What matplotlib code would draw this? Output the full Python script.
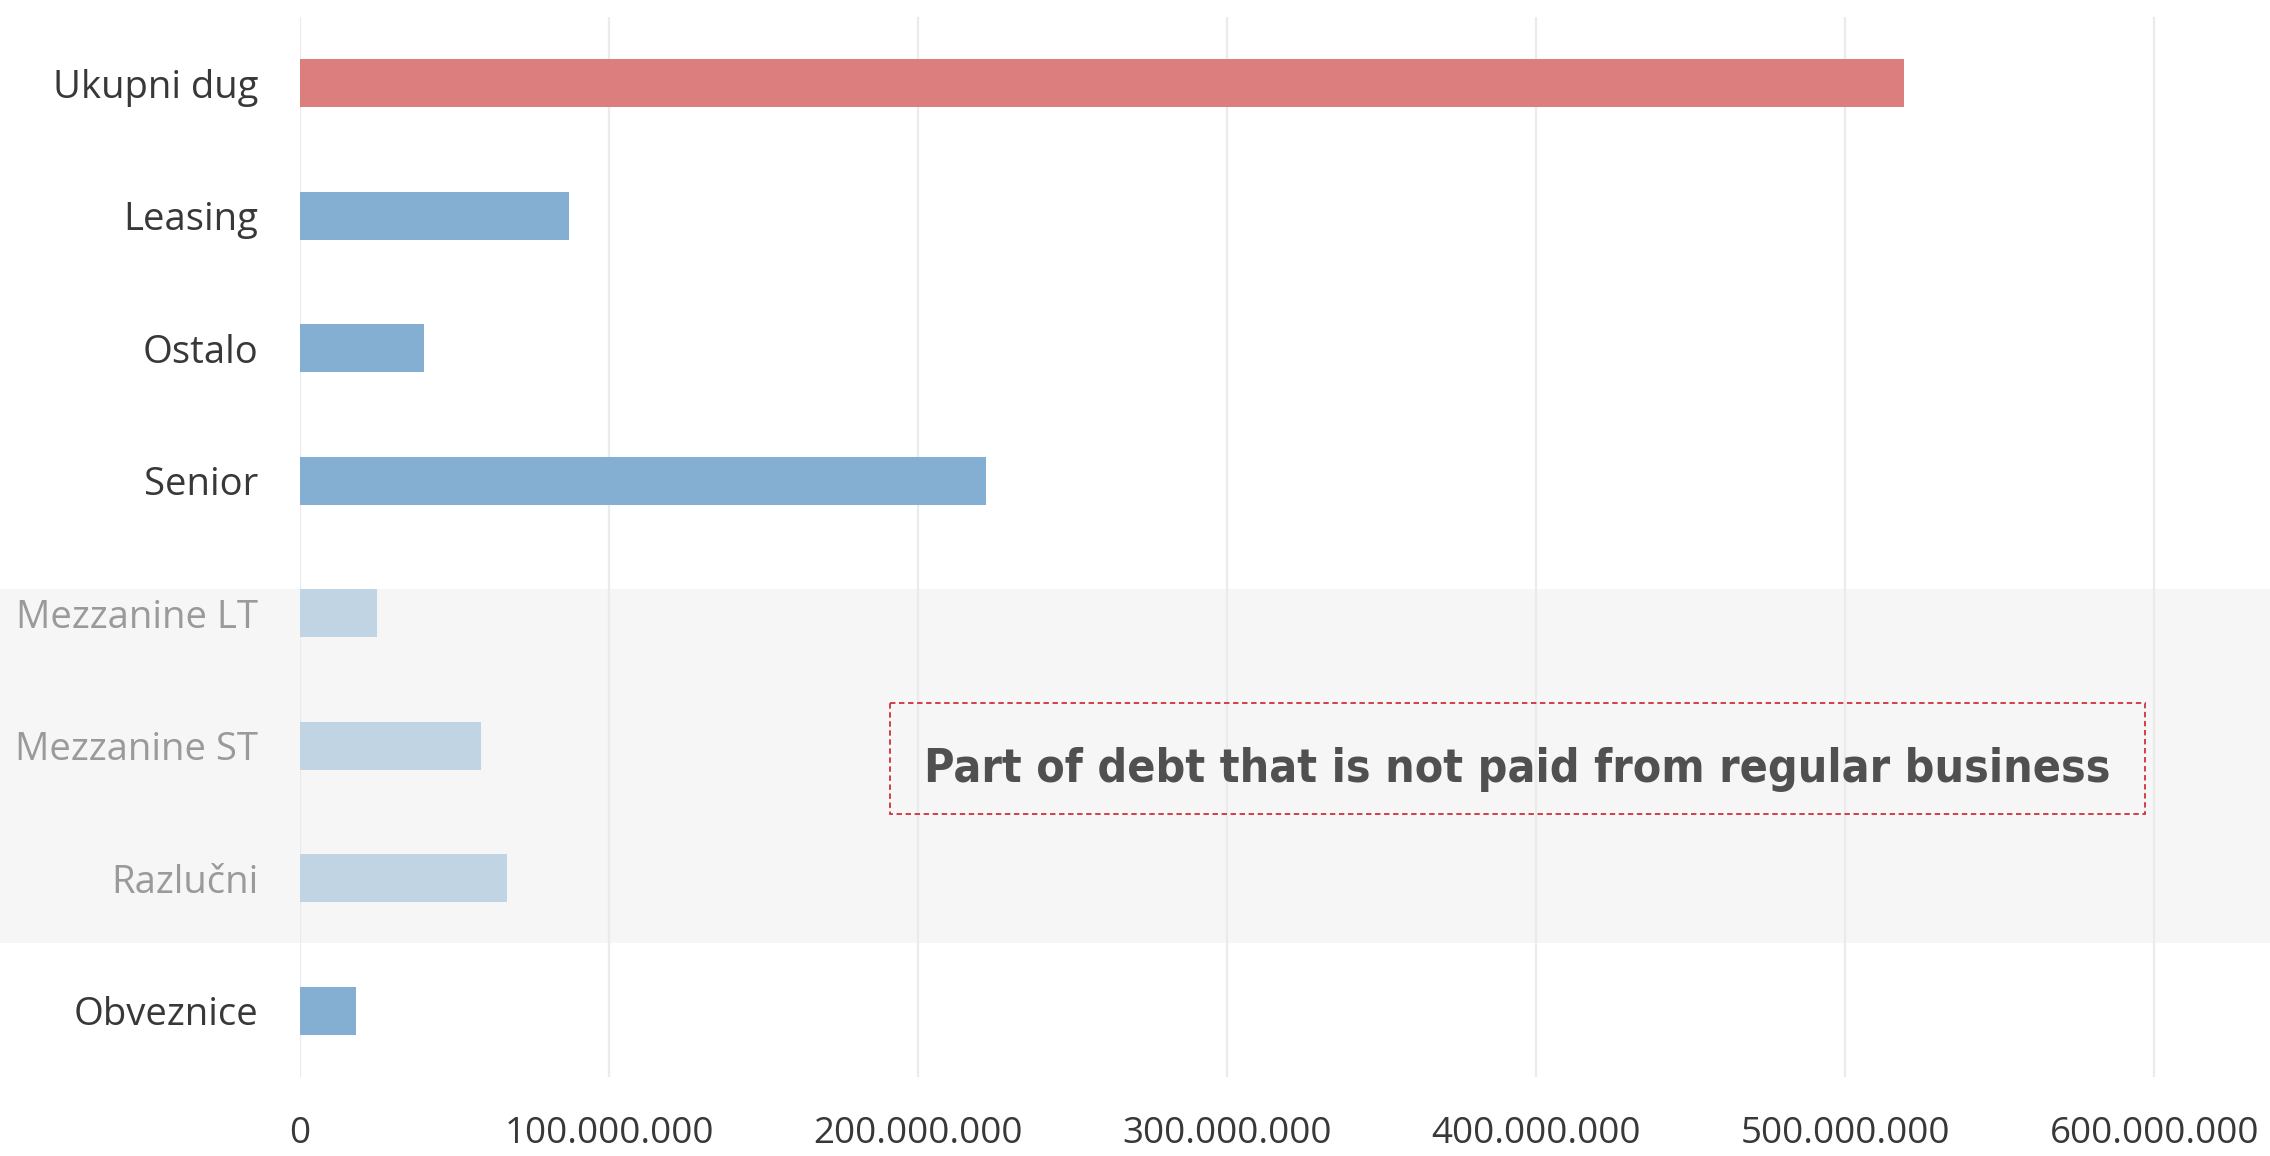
import matplotlib
matplotlib.use("Agg")
import matplotlib.pyplot as plt
import matplotlib.transforms as mtransforms
from matplotlib.patches import Rectangle
from matplotlib.ticker import FuncFormatter

# data
categories = ['Ukupni dug', 'Leasing', 'Ostalo', 'Senior',
              'Mezzanine LT', 'Mezzanine ST', 'Razlučni', 'Obveznice']
values = [519e6, 87e6, 40e6, 222e6, 25e6, 58.5e6, 67e6, 18e6]
faded = [False, False, False, False, True, True, True, False]
ticks = [0, 100e6, 200e6, 300e6, 400e6, 500e6, 600e6]
note = 'Part of debt that is not paid from regular business'

red = '#dd7e7e'
blue = '#84afd3'
blue_faded = '#c1d4e3'

plt.rcParams['font.family'] = ['Open Sans', 'DejaVu Sans']

fig = plt.figure(figsize=(22.7, 11.56), dpi=100)
ax = fig.add_axes([300 / 2270, 1 - 1077 / 1156, 1947 / 2270, 1060 / 1156])

ypos = list(range(len(categories)))
colors = []
for i, f in enumerate(faded):
    if i == 0:
        colors.append(red)
    elif f:
        colors.append(blue_faded)
    else:
        colors.append(blue)

ax.barh(ypos, values, height=0.36, color=colors, zorder=2)

ax.set_ylim(7.5, -0.5)
ax.set_xlim(0, 630e6)

# grey band behind the faded rows, over full figure width
trans = mtransforms.blended_transform_factory(fig.transFigure, ax.transData)
band = Rectangle((0, 3.82), 1, 6.485 - 3.82, transform=trans,
                 facecolor='#f6f6f6', edgecolor='none', zorder=0, clip_on=False)
ax.add_patch(band)

ax.set_xticks(ticks)
ax.xaxis.set_major_formatter(FuncFormatter(lambda v, p: '{:,.0f}'.format(v).replace(',', '.')))
ax.set_yticks(ypos)
ax.set_yticklabels(categories)
for lab, f in zip(ax.get_yticklabels(), faded):
    lab.set_color('#9a9a9a' if f else '#383838')

ax.tick_params(axis='y', length=0, pad=30, labelsize=27.5)
ax.tick_params(axis='x', length=0, pad=28, labelsize=26.5, labelcolor='#383838')

ax.grid(axis='x', color='#ebebeb', linewidth=1.6, zorder=0.5)
ax.set_axisbelow(True)
for s in ax.spines.values():
    s.set_visible(False)
ax.patch.set_alpha(0)

# dashed annotation box
box = Rectangle((191e6, 4.68), 597e6 - 191e6, 5.515 - 4.68, fill=False,
                edgecolor='#d0303c', linestyle=(0, (3, 2)), linewidth=1.3, zorder=3)
ax.add_patch(box)
ax.text(394e6, 5.18, note, ha='center', va='center', fontsize=33.3,
        fontweight='bold', color='#505050',
        family=['DejaVu Sans'], fontstretch='condensed', zorder=4)

fig.savefig('out.png', dpi=100)
